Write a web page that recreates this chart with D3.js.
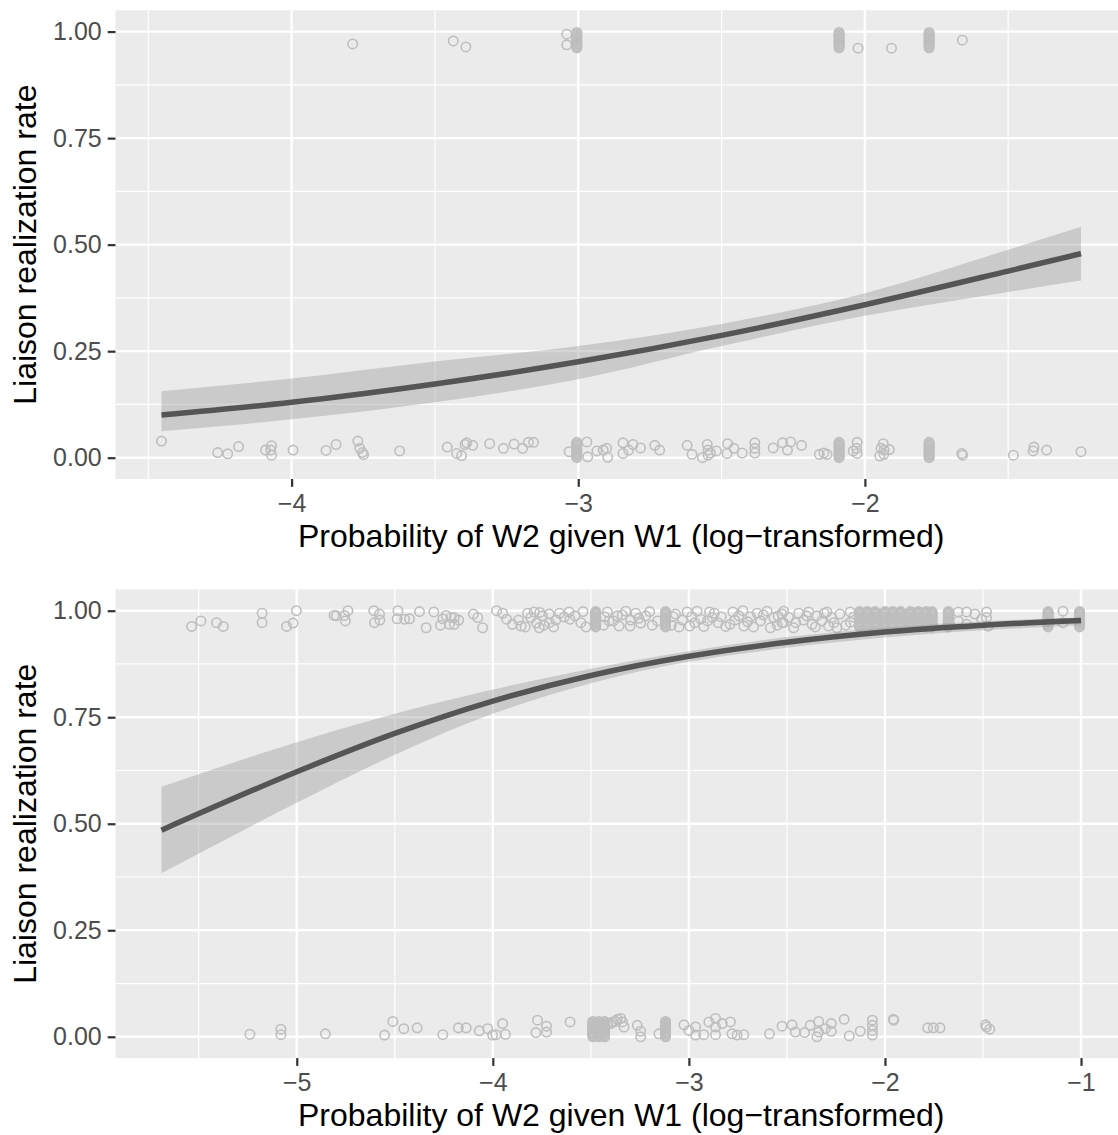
<!DOCTYPE html>
<html>
<head>
<meta charset="utf-8">
<script src="https://cdn.jsdelivr.net/npm/d3@7"></script>
<style>
  body { margin: 0; background: #ffffff; }
  svg { display: block; }
  text { font-family: "Liberation Sans", Arial, Helvetica, sans-serif; }
</style>
</head>
<body>
<svg id="chart" width="1118" height="1135"></svg>
<script>
// ---------- shared axis settings ----------
const yTicks = [0, 0.25, 0.5, 0.75, 1];
const yMinor = [0.125, 0.375, 0.625, 0.875];
const xTitle = "Probability of W2 given W1 (log\u2212transformed)";
const yTitle = "Liaison realization rate";

// ---------- top panel ----------
const topXTicks = [-4, -3, -2];
const topXMinor = [-4.5, -3.5, -2.5, -1.5];

// logistic smooth: x, fitted rate, lower/upper 95% band
const topFitX = [-4.454, -4.0, -3.5, -3.0, -2.5, -2.0, -1.5, -1.246];
const topFit  = [0.100, 0.130, 0.173, 0.225, 0.287, 0.359, 0.438, 0.479];
const topLo   = [0.062, 0.090, 0.130, 0.184, 0.262, 0.333, 0.389, 0.416];
const topHi   = [0.156, 0.186, 0.226, 0.262, 0.314, 0.386, 0.488, 0.542];

// jittered observations (no liaison)
const topLowPts = [
  [-4.454, 0.039], [-4.258, 0.012], [-4.223, 0.009], [-4.185, 0.026], [-4.091, 0.018],
  [-4.070, 0.028], [-4.073, 0.018], [-4.070, 0.006], [-3.995, 0.018], [-3.880, 0.017],
  [-3.845, 0.031], [-3.769, 0.039], [-3.762, 0.022], [-3.753, 0.012], [-3.749, 0.007],
  [-3.623, 0.016], [-3.457, 0.025], [-3.424, 0.010], [-3.407, 0.005], [-3.395, 0.031],
  [-3.389, 0.035], [-3.368, 0.029], [-3.309, 0.033], [-3.261, 0.022], [-3.224, 0.032],
  [-3.194, 0.022], [-3.174, 0.036], [-3.156, 0.036], [-3.032, 0.014], [-2.970, 0.037],
  [-2.967, 0.002], [-2.935, 0.016], [-2.901, 0.022], [-2.897, 0.001], [-2.913, 0.018],
  [-2.844, 0.035], [-2.844, 0.010], [-2.824, 0.018], [-2.809, 0.031], [-2.783, 0.023],
  [-2.733, 0.029], [-2.716, 0.018], [-2.620, 0.029], [-2.603, 0.008], [-2.567, 0.000],
  [-2.550, 0.031], [-2.547, 0.018], [-2.547, 0.006], [-2.539, 0.011], [-2.518, 0.016],
  [-2.479, 0.033], [-2.481, 0.010], [-2.457, 0.022], [-2.428, 0.011], [-2.384, 0.035],
  [-2.384, 0.022], [-2.384, 0.011], [-2.320, 0.023], [-2.287, 0.035], [-2.270, 0.018],
  [-2.259, 0.037], [-2.221, 0.029], [-2.159, 0.008], [-2.143, 0.011], [-2.132, 0.008],
  [-2.027, 0.036], [-2.029, 0.022], [-2.027, 0.010], [-2.041, 0.016], [-1.936, 0.033],
  [-1.944, 0.022], [-1.915, 0.019], [-1.948, 0.004], [-1.934, 0.008], [-1.933, 0.018],
  [-1.662, 0.010], [-1.659, 0.006], [-1.482, 0.006], [-1.410, 0.025], [-1.413, 0.016],
  [-1.366, 0.018], [-1.246, 0.014]
];
// jittered observations (liaison realized)
const topHighPts = [
  [-3.787, 0.971], [-3.436, 0.978], [-3.392, 0.964], [-3.040, 0.994], [-3.040, 0.969],
  [-2.024, 0.961], [-1.907, 0.961], [-1.660, 0.980]
];
// heavily repeated x values, stacked by vertical jitter
const topColumnsX = [-3.005, -2.090, -1.776];
const columnLowY  = [0.000, 0.003, 0.006, 0.009, 0.012, 0.015, 0.018, 0.021, 0.024,
                     0.027, 0.030, 0.033, 0.036];
const columnHighY = [0.962, 0.965, 0.968, 0.971, 0.974, 0.977, 0.980, 0.983, 0.986,
                     0.989, 0.992, 0.995, 0.998];

// ---------- bottom panel ----------
const botXTicks = [-5, -4, -3, -2, -1];
const botXMinor = [-5.5, -4.5, -3.5, -2.5, -1.5];

const botFitX = [-5.69, -5.0, -4.5, -4.0, -3.5, -3.0, -2.5, -2.0, -1.5, -1.0];
const botFit  = [0.485, 0.622, 0.712, 0.788, 0.848, 0.893, 0.926, 0.950, 0.966, 0.977];
const botLo   = [0.384, 0.549, 0.662, 0.758, 0.830, 0.880, 0.913, 0.937, 0.954, 0.966];
const botHi   = [0.587, 0.691, 0.758, 0.815, 0.864, 0.905, 0.938, 0.960, 0.975, 0.984];

const botHighPts = [
  [-5.536, 0.963], [-5.489, 0.976], [-5.409, 0.972], [-5.375, 0.963], [-5.177, 0.994],
  [-5.177, 0.972], [-5.052, 0.963], [-5.019, 0.971], [-5.002, 1.000], [-4.810, 0.989],
  [-4.798, 0.988], [-4.756, 0.989], [-4.739, 1.000], [-4.752, 0.976], [-4.607, 1.000],
  [-4.578, 0.992], [-4.576, 0.978], [-4.603, 0.972], [-4.484, 1.000], [-4.488, 0.981],
  [-4.450, 0.980], [-4.425, 0.981], [-4.374, 0.998], [-4.340, 0.960], [-4.301, 0.997],
  [-4.267, 0.966], [-4.255, 0.981], [-4.238, 0.989], [-4.221, 0.968], [-4.213, 0.984],
  [-4.196, 0.984], [-4.174, 0.978], [-4.196, 0.968], [-4.099, 0.992], [-4.077, 0.984],
  [-4.052, 0.960], [-3.981, 1.000], [-3.950, 0.994], [-3.869, 0.978], [-3.856, 0.964],
  [-3.823, 0.994], [-3.806, 0.984], [-3.789, 0.997], [-3.777, 0.971], [-3.763, 0.960],
  [-3.747, 0.988], [-3.712, 0.992], [-3.712, 0.972], [-3.678, 0.978], [-3.636, 0.985],
  [-3.611, 0.997], [-3.607, 0.980], [-3.551, 0.972], [-3.416, 0.997], [-3.407, 0.976],
  [-3.365, 0.988], [-3.356, 0.964], [-3.322, 0.999], [-3.297, 0.978], [-3.271, 0.994],
  [-3.246, 0.971], [-3.220, 0.988], [-3.187, 0.966], [-3.068, 0.992], [-3.034, 0.978],
  [-3.009, 0.997], [-2.996, 0.964], [-2.958, 0.999], [-2.940, 0.980], [-2.924, 0.963],
  [-2.895, 0.997], [-2.881, 0.984], [-2.851, 0.972], [-2.813, 0.963], [-2.776, 0.997],
  [-2.766, 0.978], [-2.725, 1.000], [-2.720, 0.964], [-2.686, 0.986], [-2.652, 0.994],
  [-2.635, 0.976], [-2.601, 0.999], [-2.584, 0.960], [-2.567, 0.984], [-2.525, 0.992],
  [-2.525, 0.972], [-2.517, 0.999], [-2.517, 0.972], [-2.491, 0.984], [-2.466, 0.960],
  [-2.440, 0.994], [-2.415, 0.978], [-2.389, 0.997], [-2.372, 0.968], [-2.347, 0.988],
  [-2.322, 0.976], [-2.296, 0.997], [-2.288, 0.964], [-2.271, 0.984], [-2.245, 0.960],
  [-2.177, 0.997], [-2.177, 0.973], [-1.626, 0.997], [-1.626, 0.976], [-1.584, 0.997],
  [-1.584, 0.968], [-1.541, 0.992], [-1.507, 0.980], [-1.482, 0.997], [-1.482, 0.984],
  [-1.473, 0.964], [-1.092, 0.999], [-1.092, 0.972],
  [-3.930, 0.980], [-3.900, 0.968], [-3.835, 0.962], [-3.760, 0.996], [-3.740, 0.966],
  [-3.690, 0.962], [-3.660, 0.994], [-3.580, 0.988], [-3.540, 0.998], [-3.525, 0.962],
  [-3.435, 0.966], [-3.430, 0.986], [-3.385, 0.976], [-3.340, 0.990], [-3.300, 0.964],
  [-3.255, 0.982], [-3.200, 0.998], [-3.160, 0.976], [-3.090, 0.966], [-3.080, 0.986],
  [-3.050, 0.962], [-2.985, 0.986], [-2.970, 0.972], [-2.905, 0.976], [-2.870, 0.994],
  [-2.835, 0.986], [-2.790, 0.968], [-2.745, 0.988], [-2.700, 0.974], [-2.670, 0.962],
  [-2.620, 0.990], [-2.550, 0.966], [-2.545, 0.988], [-2.455, 0.972], [-2.400, 0.988],
  [-2.355, 0.962], [-2.310, 0.994], [-2.260, 0.972], [-2.230, 0.992], [-2.200, 0.966],
  [-2.160, 0.985]
];
const botLowPts = [
  [-5.239, 0.006], [-5.081, 0.018], [-5.081, 0.005], [-4.854, 0.007], [-4.552, 0.004],
  [-4.510, 0.036], [-4.454, 0.019], [-4.386, 0.021], [-4.255, 0.005], [-4.176, 0.021],
  [-4.136, 0.021], [-4.069, 0.014], [-4.026, 0.019], [-4.001, 0.004], [-3.984, 0.005],
  [-3.950, 0.031], [-3.936, 0.006], [-3.772, 0.039], [-3.780, 0.010], [-3.726, 0.025],
  [-3.726, 0.011], [-3.606, 0.035], [-3.398, 0.031], [-3.373, 0.036], [-3.441, 0.027],
  [-3.416, 0.031], [-3.390, 0.035], [-3.365, 0.041], [-3.348, 0.043], [-3.331, 0.023],
  [-3.339, 0.035], [-3.441, 0.011], [-3.263, 0.027], [-3.246, 0.013], [-3.246, 0.000],
  [-3.153, 0.007], [-3.025, 0.028], [-3.000, 0.015], [-2.966, 0.023], [-2.966, 0.004],
  [-2.924, 0.005], [-2.898, 0.035], [-2.864, 0.043], [-2.864, 0.023], [-2.830, 0.031],
  [-2.864, 0.005], [-2.788, 0.035], [-2.780, 0.007], [-2.754, 0.004], [-2.720, 0.005],
  [-2.589, 0.007], [-2.525, 0.025], [-2.474, 0.028], [-2.457, 0.011], [-2.410, 0.010],
  [-2.381, 0.027], [-2.338, 0.036], [-2.338, 0.011], [-2.347, 0.000], [-2.304, 0.019],
  [-2.274, 0.031], [-2.274, 0.013], [-2.208, 0.041], [-2.182, 0.002], [-2.126, 0.013],
  [-2.064, 0.039], [-2.064, 0.027], [-2.064, 0.015], [-2.064, 0.004], [-1.957, 0.041],
  [-1.955, 0.039], [-1.782, 0.021], [-1.753, 0.021], [-1.719, 0.021], [-1.487, 0.028],
  [-1.465, 0.018], [-1.482, 0.023]
];
const botHighColumnsX = [-3.475, -3.119, -2.130, -2.090, -2.050, -2.000, -1.960, -1.920,
                         -1.870, -1.830, -1.790, -1.760, -1.677, -1.168, -1.007];
const botLowColumnsX  = [-3.490, -3.460, -3.430, -3.119];

// ---------- layout ----------
const svg = d3.select("#chart");
const LEFT = 115.5, RIGHT = 1127;
const INK = "#4D4D4D";
const TICK_FONT = 25, TITLE_FONT = 32;

function expand(ext, f = 0.05) {
  const pad = (ext[1] - ext[0]) * f;
  return [ext[0] - pad, ext[1] + pad];
}

function drawPanel(opt) {
  const g = svg.append("g");
  const x = d3.scaleLinear().domain(expand(d3.extent(opt.fitX))).range([LEFT, RIGHT]);
  const y = d3.scaleLinear().domain([-0.05, 1.05]).range([opt.bottom, opt.top]);

  // panel background
  g.append("rect")
    .attr("x", LEFT).attr("y", opt.top)
    .attr("width", RIGHT - LEFT).attr("height", opt.bottom - opt.top)
    .attr("fill", "#EBEBEB");

  // grid
  const grid = g.append("g").attr("stroke", "#FFFFFF");
  grid.selectAll(".vmin").data(opt.xMinor).join("line")
    .attr("x1", d => x(d)).attr("x2", d => x(d))
    .attr("y1", opt.top).attr("y2", opt.bottom).attr("stroke-width", 1.2);
  grid.selectAll(".hmin").data(yMinor).join("line")
    .attr("x1", LEFT).attr("x2", RIGHT)
    .attr("y1", d => y(d)).attr("y2", d => y(d)).attr("stroke-width", 1.2);
  grid.selectAll(".vmaj").data(opt.xTicks).join("line")
    .attr("x1", d => x(d)).attr("x2", d => x(d))
    .attr("y1", opt.top).attr("y2", opt.bottom).attr("stroke-width", 2.4);
  grid.selectAll(".hmaj").data(yTicks).join("line")
    .attr("x1", LEFT).attr("x2", RIGHT)
    .attr("y1", d => y(d)).attr("y2", d => y(d)).attr("stroke-width", 2.4);

  const clipId = "clip-" + opt.name;
  g.append("clipPath").attr("id", clipId).append("rect")
    .attr("x", LEFT).attr("y", opt.top)
    .attr("width", RIGHT - LEFT).attr("height", opt.bottom - opt.top);
  const plot = g.append("g").attr("clip-path", `url(#${clipId})`);

  // points: scattered ones plus stacked columns
  const pts = opt.points.slice();
  opt.lowColumns.forEach(cx => columnLowY.forEach(cy => pts.push([cx, cy])));
  opt.highColumns.forEach(cx => columnHighY.forEach(cy => pts.push([cx, cy])));
  plot.append("g").selectAll("circle").data(pts).join("circle")
    .attr("cx", d => x(d[0])).attr("cy", d => y(d[1])).attr("r", 4.7)
    .attr("fill", "none").attr("stroke", "#BEBEBE").attr("stroke-width", 1.6);

  // confidence ribbon and fitted curve
  const fit = opt.fitX.map((v, i) => ({ x: v, f: opt.fit[i], lo: opt.lo[i], hi: opt.hi[i] }));
  plot.append("path").datum(fit)
    .attr("d", d3.area().x(d => x(d.x)).y0(d => y(d.lo)).y1(d => y(d.hi)).curve(d3.curveMonotoneX))
    .attr("fill", "#999999").attr("fill-opacity", 0.4);
  plot.append("path").datum(fit)
    .attr("d", d3.line().x(d => x(d.x)).y(d => y(d.f)).curve(d3.curveMonotoneX))
    .attr("fill", "none").attr("stroke", "#555555").attr("stroke-width", 5.5)
    .attr("stroke-linecap", "butt");

  // axes
  const yAxis = g.append("g").attr("transform", `translate(${LEFT},0)`)
    .call(d3.axisLeft(y).tickValues(yTicks).tickFormat(d3.format(".2f")).tickSize(7.8).tickPadding(6));
  const xAxis = g.append("g").attr("transform", `translate(0,${opt.bottom})`)
    .call(d3.axisBottom(x).tickValues(opt.xTicks).tickFormat(d3.format("d")).tickSize(7.8).tickPadding(7));
  [yAxis, xAxis].forEach(a => {
    a.select(".domain").remove();
    a.selectAll(".tick line").attr("stroke", "#333333").attr("stroke-width", 2.2);
    a.selectAll(".tick text").attr("fill", INK).attr("font-size", TICK_FONT)
      .attr("font-family", "'Liberation Sans', Arial, sans-serif");
  });

  // titles
  g.append("text")
    .attr("x", (LEFT + RIGHT) / 2).attr("y", opt.bottom + 67.5)
    .attr("text-anchor", "middle").attr("font-size", TITLE_FONT).attr("fill", "#000")
    .text(xTitle);
  g.append("text")
    .attr("transform", `translate(36,${(opt.top + opt.bottom) / 2}) rotate(-90)`)
    .attr("text-anchor", "middle").attr("font-size", TITLE_FONT).attr("fill", "#000")
    .text(yTitle);
}

drawPanel({
  name: "top", top: 10.3, bottom: 479,
  fitX: topFitX, fit: topFit, lo: topLo, hi: topHi,
  xTicks: topXTicks, xMinor: topXMinor,
  points: topLowPts.concat(topHighPts),
  lowColumns: topColumnsX, highColumns: topColumnsX
});

drawPanel({
  name: "bottom", top: 589.4, bottom: 1058.1,
  fitX: botFitX, fit: botFit, lo: botLo, hi: botHi,
  xTicks: botXTicks, xMinor: botXMinor,
  points: botLowPts.concat(botHighPts),
  lowColumns: botLowColumnsX, highColumns: botHighColumnsX
});
</script>
</body>
</html>
